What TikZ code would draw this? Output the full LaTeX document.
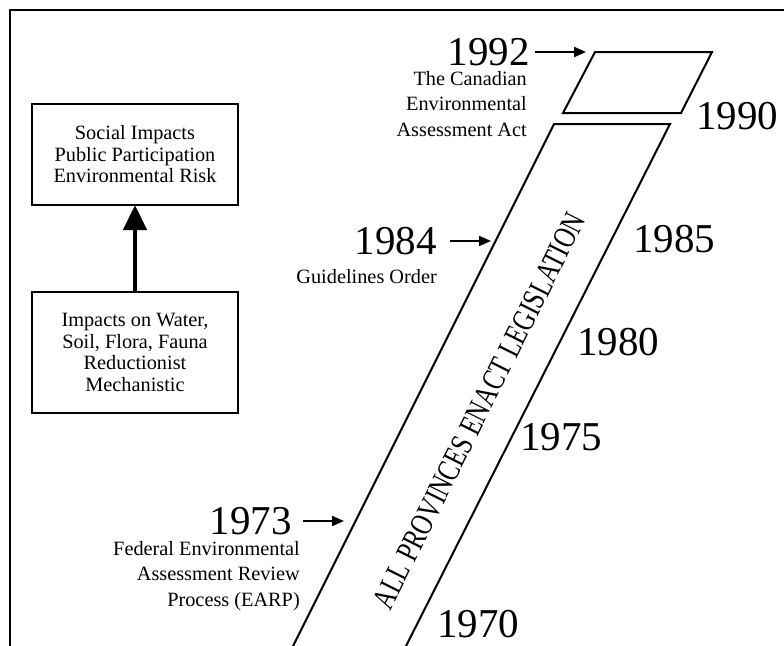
\documentclass[tikz,border=0pt]{standalone}
\usepackage{fontspec}
\setmainfont{Liberation Serif}
\usetikzlibrary{arrows.meta}
\tikzset{
  year/.style={font=\fontsize{41}{41}\selectfont, inner sep=0pt},
  note/.style={font=\fontsize{20.3}{25.5}\selectfont, align=right, inner sep=0pt},
  boxtxt/.style={draw, line width=2pt, minimum width=206pt, align=center, inner sep=0pt,
     font=\fontsize{20.3}{21.5}\selectfont},
  band/.style={line width=2pt, line join=miter},
  smallarr/.style={line width=2pt, -{Triangle[length=12pt,width=10pt]}},
  bigarr/.style={line width=4.5pt, -{Triangle[length=25pt,width=23pt]}},
  frameline/.style={line width=2pt}
}
\begin{document}
\begin{tikzpicture}[x=1pt,y=-1pt]
\useasboundingbox (0,0) rectangle (784,645);
\fill[white] (0,0) rectangle (784,645);
% frame (cut at right and bottom)
\coordinate (fbl) at (10,650);
\coordinate (ftl) at (10,10);
\coordinate (ftr) at (790,10);
\draw[frameline] (fbl) -- (ftl) -- (ftr);

% left boxes
\node[boxtxt, minimum height=101pt] (top) at (135,154.5) {Social Impacts\\Public Participation\\Environmental Risk};
\node[boxtxt, minimum height=121pt] (bot) at (135,352.5) {Impacts on Water,\\Soil, Flora, Fauna\\Reductionist\\Mechanistic};
\draw[bigarr] (bot.north) -- ([yshift=1pt]top.south);

% top parallelogram
\coordinate (p1) at (595,52);
\coordinate (p2) at (712,52);
\coordinate (p3) at (681,113);
\coordinate (p4) at (563,113);
\draw[band] (p1) -- (p2) -- (p3) -- (p4) -- cycle;

% long band
\coordinate (b1) at (292,648);
\coordinate (b2) at (554,124);
\coordinate (b3) at (670,124);
\coordinate (b4) at (405,648);
\draw[band] (b1) -- (b2) -- (b3) -- (b4);

\node[rotate=63.43, inner sep=0pt] (prov) at (479,411)
  {\scalebox{0.76}[1]{\fontsize{32}{32}\selectfont ALL PROVINCES ENACT LEGISLATION}};

% years on the right
\node[year] (y90) at (737,116) {1990};
\node[year] (y85) at (674,239) {1985};
\node[year] (y80) at (618,342) {1980};
\node[year] (y75) at (561,437) {1975};
\node[year] (y70) at (478,624) {1970};

% years with arrows on the left
\node[year, anchor=east] (y92) at (530,52) {1992};
\node[note, anchor=north east] (can) at (527,71) {The Canadian\\Environmental\\Assessment Act};
\coordinate (t92) at (586,52);
\draw[smallarr] ([xshift=5pt]y92.east) -- (t92);

\node[year, anchor=east] (y84) at (437,241) {1984};
\node[note, anchor=east] (guid) at (437,277) {Guidelines Order};
\coordinate (t84) at (491,241);
\draw[smallarr] ([xshift=13pt]y84.east) -- (t84);

\node[year, anchor=east] (y73) at (292,521) {1973};
\node[note, anchor=north east] (earp) at (300,541) {Federal Environmental\\Assessment Review\\Process (EARP)};
\coordinate (t73) at (344,521);
\draw[smallarr] ([xshift=11pt]y73.east) -- (t73);
\end{tikzpicture}
\end{document}
